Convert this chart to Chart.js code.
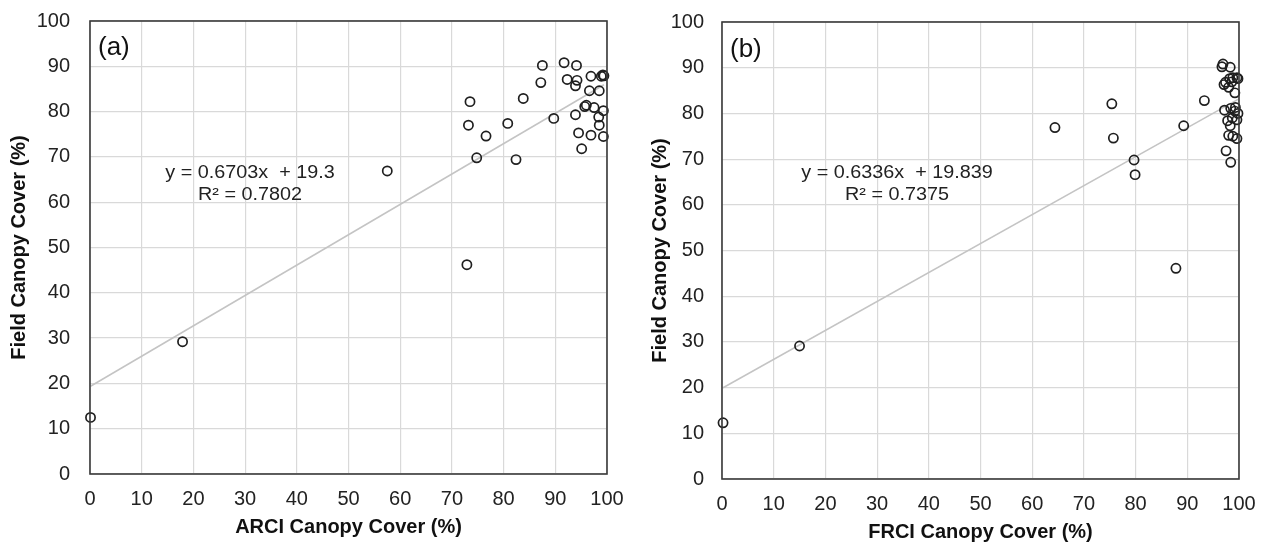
<!DOCTYPE html>
<html><head><meta charset="utf-8">
<script src="https://cdn.jsdelivr.net/npm/chart.js@4.4.1/dist/chart.umd.min.js"></script>
<style>
html,body{margin:0;padding:0;background:#fff;}
#wrap{position:relative;width:1261px;height:546px;overflow:hidden;background:#fff;}
.panel{position:absolute;}
.panel canvas{display:block;}
#pa{left:0;top:-19px;width:647px;height:565px;}
#pb{left:620px;top:-18px;width:659px;height:564px;}
</style></head><body>
<div id="wrap">
<div class="panel" id="pa"><canvas id="ca" width="647" height="565"></canvas></div>
<div class="panel" id="pb"><canvas id="cb" width="659" height="564"></canvas></div>
</div>
<script>
// ---- data ----
const axisTicks = [0,10,20,30,40,50,60,70,80,90,100];
const arciX = [0.1,17.9,57.5,72.9,73.2,73.5,74.8,76.6,80.8,82.4,83.8,87.2,87.5,89.7,91.7,92.3,94.1,94.2,93.9,93.9,94.5,95.1,95.7,96.0,96.6,96.9,96.9,97.5,98.5,98.4,98.5,98.9,99.2,99.4,99.3,99.3];
const arciY = [12.5,29.2,66.9,46.2,77.0,82.2,69.8,74.6,77.4,69.4,82.9,86.4,90.2,78.5,90.8,87.1,90.2,86.9,85.7,79.3,75.3,71.8,81.1,81.4,84.6,87.8,74.8,80.9,84.6,78.8,77.0,87.8,88.1,87.9,80.2,74.5];
const frciX = [0.2,15.0,64.4,75.4,75.7,79.7,79.9,87.8,89.3,93.3,96.7,96.9,98.3,97.1,97.4,98.2,98.8,99.6,99.8,98.0,99.2,97.2,98.4,99.2,99.8,97.8,98.7,99.6,98.3,98.0,98.8,99.6,97.5,98.4,98.6,99.3];
const frciY = [12.3,29.1,76.9,82.1,74.6,69.8,66.6,46.1,77.3,82.8,90.2,90.8,90.1,86.3,86.8,87.6,87.8,87.8,87.6,85.7,84.5,80.7,81.1,80.5,80.0,78.4,79.0,78.6,77.3,75.2,75.0,74.5,71.8,69.3,86.9,81.3];
const fitA = [0.6703, 19.3];   // slope, intercept
const fitB = [0.6336, 19.839];
const eqA = ["y = 0.6703x  + 19.3", "R\u00B2 = 0.7802"];
const eqB = ["y = 0.6336x  + 19.839", "R\u00B2 = 0.7375"];
const titlesA = ["ARCI Canopy Cover (%)", "Field Canopy Cover (%)", "(a)"];
const titlesB = ["FRCI Canopy Cover (%)", "Field Canopy Cover (%)", "(b)"];

const FONT = "'Liberation Sans', Arial, sans-serif";

function pts(xs, ys){ return xs.map((x,i)=>({x:x, y:ys[i]})); }
function trend(xs, fit){
  const lo = Math.min(...xs), hi = Math.max(...xs);
  return [{x:lo, y:fit[0]*lo+fit[1]}, {x:hi, y:fit[0]*hi+fit[1]}];
}

const framePlugin = {
  id: 'framePlugin',
  afterDraw(chart, args, o){
    const {ctx, chartArea:a} = chart;
    ctx.save();
    ctx.strokeStyle = '#3a3a3a';
    ctx.lineWidth = 1.6;
    ctx.strokeRect(a.left, a.top, a.right-a.left, a.bottom-a.top);
    ctx.fillStyle = '#111';
    ctx.textBaseline = 'middle';
    ctx.textAlign = 'left';
    ctx.font = "26px " + FONT;
    ctx.fillText(o.tag, a.left + o.tagDx, a.top + o.tagDy);
    ctx.textAlign = 'center';
    ctx.font = "18px " + FONT;
    ctx.fillStyle = '#222';
    const cx = a.left + o.eqDx;
    ctx.translate(cx, 0);
    ctx.scale(1.1, 1);
    ctx.fillText(o.eq[0], 0, a.top + o.eqDy + 1);
    ctx.fillText(o.eq[1], 0, a.top + o.eqDy + 23);
    ctx.restore();
  }
};

function makeChart(id, xs, ys, fit, eq, titles, geo){
  return new Chart(document.getElementById(id), {
    type: 'scatter',
    data: {
      datasets: [
        { type:'line', data: trend(xs, fit), borderColor:'#c4c4c4', borderWidth:1.5, pointRadius:0, fill:false, order:2, clip:false },
        { data: pts(xs, ys), pointRadius:4.6, pointBorderWidth:1.7, pointBorderColor:'#1f1f1f', pointBackgroundColor:'rgba(0,0,0,0)', order:1, clip:false }
      ]
    },
    options: {
      responsive:false, animation:false,
      layout:{ padding:{ left:0, top:40, right:40, bottom:0 } },
      plugins:{ legend:{display:false}, tooltip:{enabled:false},
        framePlugin:{ tag:titles[2], tagDx:geo.tagDx, tagDy:geo.tagDy, eq:eq, eqDx:geo.eqDx, eqDy:geo.eqDy } },
      scales:{
        x:{ type:'linear', min:0, max:100,
          afterBuildTicks: s => { s.ticks = axisTicks.map(v=>({value:v})); },
          afterFit: s => { s.height = geo.xh; },
          ticks:{ autoSkip:false, maxRotation:0, padding:geo.xpad, color:'#222', font:{family:FONT, size:20} },
          grid:{ color:'#d9d9d9', lineWidth:1.2, drawTicks:false },
          border:{ display:false },
          title:{ display:true, text:titles[0], color:'#111', font:{family:FONT, size:20, weight:'bold'}, padding:{top:0, bottom:geo.xtb} }
        },
        y:{ type:'linear', min:0, max:100,
          afterBuildTicks: s => { s.ticks = axisTicks.map(v=>({value:v})); },
          afterFit: s => { s.width = geo.yw; },
          ticks:{ autoSkip:false, padding:geo.ypad, color:'#222', font:{family:FONT, size:20} },
          grid:{ color:'#d9d9d9', lineWidth:1.2, drawTicks:false },
          border:{ display:false },
          title:{ display:true, text:titles[1], color:'#111', font:{family:FONT, size:20, weight:'bold'}, padding:{top:geo.ytt, bottom:0} }
        }
      }
    },
    plugins:[framePlugin]
  });
}

makeChart('ca', arciX, arciY, fitA, eqA, titlesA,
  {xh:72, yw:90, xpad:13, ypad:20, xtb:7, ytt:7, tagDx:8, tagDy:27, eqDx:160, eqDy:151});
makeChart('cb', frciX, frciY, fitB, eqB, titlesB,
  {xh:67, yw:102, xpad:13, ypad:18, xtb:2, ytt:28, tagDx:8, tagDy:28, eqDx:175, eqDy:150});
</script>
</body></html>
